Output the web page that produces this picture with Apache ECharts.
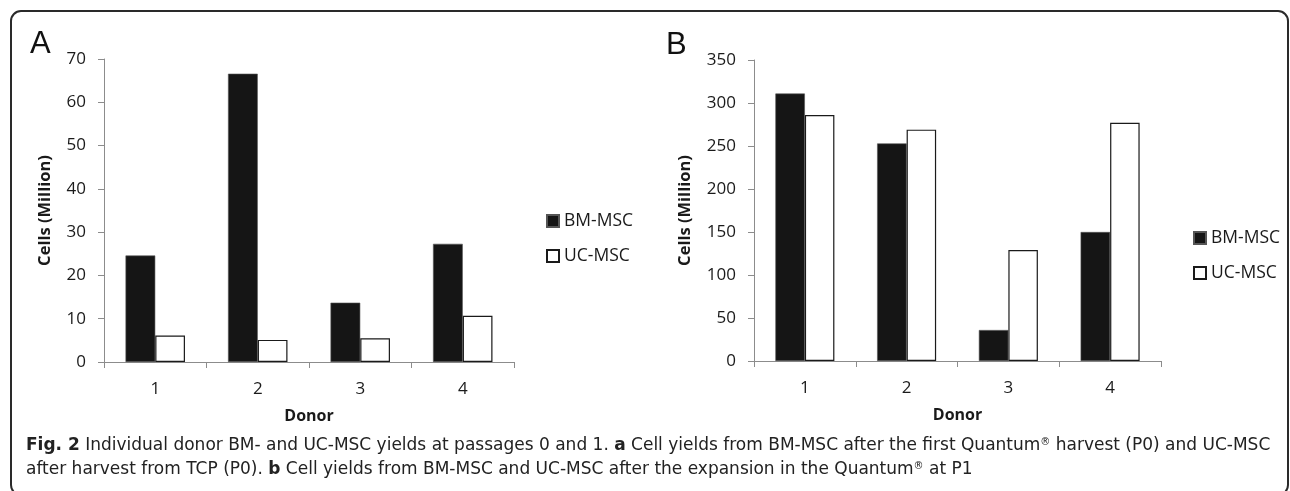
<!DOCTYPE html>
<html>
<head>
<meta charset="utf-8">
<script src="https://cdn.jsdelivr.net/npm/echarts@6/dist/echarts.min.js"></script>
<style>
html,body{margin:0;padding:0;background:#fff;}
#c{width:1290px;height:491px;}
</style>
</head>
<body>
<div id="c"></div>
<script>
const donors = ['1', '2', '3', '4'];
const seriesNames = ['BM-MSC', 'UC-MSC'];
const bmA = [24.6, 66.6, 13.7, 27.3];
const ucA = [6.1, 5.1, 5.5, 10.7];
const bmB = [311, 253, 36, 150];
const ucB = [286, 269, 129, 277];
const yTicksA = {min: 0, max: 70, interval: 10};
const yTicksB = {min: 0, max: 350, interval: 50};

const FONT = 'Open Sans';
const axisGray = '#8c8c8c';
const textCol = '#1a1a1a';

function yAxis(idx, t, gap) {
  return {
    type: 'value', gridIndex: idx, min: t.min, max: t.max, interval: t.interval,
    name: 'Cells (Million)', nameLocation: 'middle', nameGap: gap,
    nameTextStyle: {fontFamily: FONT, fontWeight: 'bold', fontSize: 16.5, color: textCol},
    axisLine: {show: true, lineStyle: {color: axisGray, width: 1}},
    axisTick: {show: true, length: 6, lineStyle: {color: axisGray}},
    splitLine: {show: false},
    axisLabel: {fontFamily: FONT, fontSize: 17, color: textCol, margin: 18}
  };
}
function xAxis(idx) {
  return {
    type: 'category', gridIndex: idx, data: donors,
    name: 'Donor', nameLocation: 'middle', nameGap: 46,
    nameTextStyle: {fontFamily: FONT, fontWeight: 'bold', fontSize: 16, color: textCol},
    axisLine: {show: true, lineStyle: {color: axisGray, width: 1}},
    axisTick: {show: true, length: 6, alignWithLabel: false, lineStyle: {color: axisGray}},
    axisLabel: {fontFamily: FONT, fontSize: 17, color: textCol, margin: 19}
  };
}
function bars(name, data, idx, dark) {
  return {
    type: 'bar', name: name, data: data, xAxisIndex: idx, yAxisIndex: idx,
    barGap: '0%', barCategoryGap: '42%',
    itemStyle: dark ? {color: '#151515', borderColor: '#555', borderWidth: 0.6}
                    : {color: '#ffffff', borderColor: '#1a1a1a', borderWidth: 1.2},
    emphasis: {disabled: true}
  };
}
function legend(left, top) {
  return {
    orient: 'vertical', left: left, top: top, itemWidth: 12, itemHeight: 12, itemGap: 17,
    icon: 'rect',
    data: seriesNames,
    textStyle: {fontFamily: FONT, fontSize: 17.5, color: textCol},
    selectedMode: false
  };
}

const capRich = {
  b: {fontWeight: 'bold', fontFamily: 'DejaVu Sans', fontSize: 17, fill: '#222'},
  s: {fontSize: 10, fontFamily: 'DejaVu Sans', verticalAlign: 'top', fill: '#222'}
};

const chart = echarts.init(document.getElementById('c'), null, {renderer: 'canvas'});
chart.setOption({
  backgroundColor: '#fff',
  animation: false,
  grid: [
    {left: 104, top: 59, width: 410, height: 303},
    {left: 754, top: 60, width: 407, height: 301}
  ],
  xAxis: [xAxis(0), xAxis(1)],
  yAxis: [yAxis(0, yTicksA, 50), yAxis(1, yTicksB, 60)],
  legend: [legend(541, 207), legend(1188, 224)],
  series: [
    bars(seriesNames[0], bmA, 0, true),
    bars(seriesNames[1], ucA, 0, false),
    bars(seriesNames[0], bmB, 1, true),
    bars(seriesNames[1], ucB, 1, false)
  ],
  graphic: [
    {type: 'rect', shape: {x: 11, y: 11, width: 1277, height: 484, r: 10},
     style: {fill: 'none', stroke: '#2a2a2a', lineWidth: 2}, silent: true},
    {type: 'text', left: 30, top: 29, style: {text: 'A', font: '31px "Liberation Sans"', fill: '#111'}},
    {type: 'text', left: 666, top: 30, style: {text: 'B', font: '31px "Liberation Sans"', fill: '#111'}},
    {type: 'text', left: 26, top: 437, style: {
      text: '{b|Fig. 2} Individual donor BM- and UC-MSC yields at passages 0 and 1. {b|a} Cell yields from BM-MSC after the first Quantum{s|®} harvest (P0) and UC-MSC',
      font: '17px "DejaVu Sans"', fill: '#222', rich: capRich
    }},
    {type: 'text', left: 26, top: 461, style: {
      text: 'after harvest from TCP (P0). {b|b} Cell yields from BM-MSC and UC-MSC after the expansion in the Quantum{s|®} at P1',
      font: '17px "DejaVu Sans"', fill: '#222', rich: capRich
    }}
  ]
});
</script>
</body>
</html>
